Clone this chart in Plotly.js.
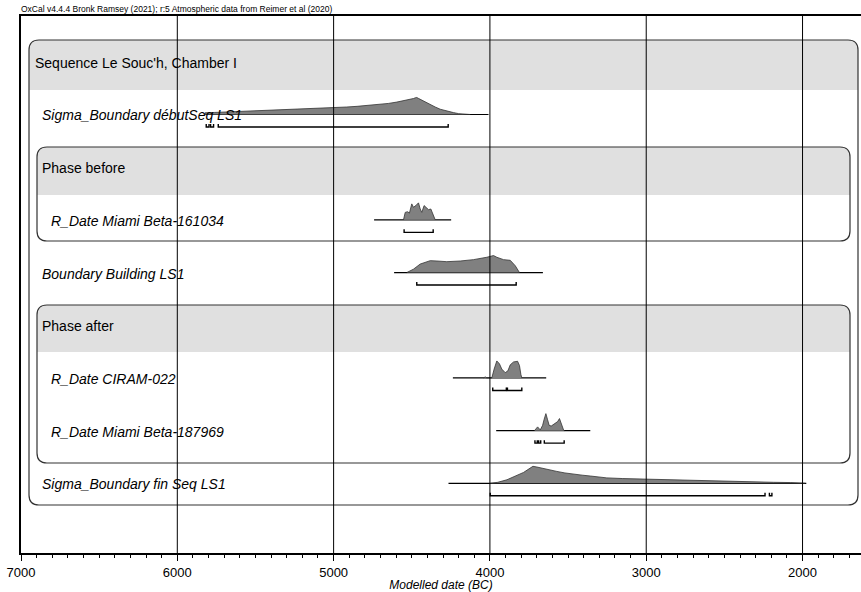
<!DOCTYPE html>
<html><head><meta charset="utf-8">
<script src="https://cdn.plot.ly/plotly-3.0.1.min.js"></script>
<style>html,body{margin:0;padding:0;background:#fff}#chart{width:861px;height:592px}</style>
</head><body><div id="chart"></div>
<script>
// ---------------- data ----------------
const rowLabels = ["Sequence Le Souc'h, Chamber I","Sigma_Boundary débutSeq LS1","Phase before","R_Date Miami Beta-161034","Boundary Building LS1","Phase after","R_Date CIRAM-022","R_Date Miami Beta-187969","Sigma_Boundary fin Seq LS1"];
const rowKinds = ["seq","item","phase","item2","item","phase","item2","item2","item"];

const tickVals = [7000,6000,5000,4000,3000,2000];
const tickText = ["7000","6000","5000","4000","3000","2000"];

// Sigma_Boundary débutSeq LS1 (row 1)
const debutYears = [5824,5822,5760,5700,5640,5556,5480,5400,5342,5260,5200,5129,5050,4980,4916,4850,4780,4702,4650,4596,4540,4505,4489,4478,4468,4458,4446,4420,4382,4350,4318,4280,4233,4200,4169,4126];
const debutProb  = [0,0.10,0.12,0.14,0.16,0.19,0.21,0.24,0.27,0.29,0.31,0.33,0.37,0.40,0.44,0.48,0.53,0.58,0.65,0.73,0.82,0.90,0.94,0.98,1.00,0.95,0.89,0.76,0.58,0.44,0.31,0.20,0.11,0.05,0.02,0];
const debutLine = [5822,4009];
const debutRange = [[5815,5797],[5787,5768],[5738,4267]];

// R_Date Miami Beta-161034 (row 3)
const b161Years = [4553,4542,4527,4515,4500,4489,4474,4457,4446,4436,4421,4408,4393,4378,4361,4350];
const b161Prob  = [0,0.44,0.48,0.40,0.94,0.74,0.84,1.00,0.64,0.44,0.84,0.74,0.60,0.64,0.24,0];
const b161Line = [4741,4248];
const b161Range = [[4549,4363]];

// Boundary Building LS1 (row 4)
const buildYears = [4532,4489,4446,4382,4339,4276,4190,4105,4020,3977,3956,3913,3870,3838,3811];
const buildProb  = [0,0.20,0.50,0.70,0.68,0.64,0.68,0.76,0.90,1.00,0.90,0.76,0.72,0.40,0];
const buildLine = [4613,3661];
const buildRange = [[4468,3832]];

// R_Date CIRAM-022 (row 6)
const ciramYears = [4041,4030,4020,3988,3973,3956,3939,3924,3902,3885,3870,3849,3823,3811,3802,3796];
const ciramProb  = [0,0.06,0,0,0.52,1.00,0.83,0.52,0.31,0.42,0.77,0.94,0.98,0.73,0.21,0];
const ciramLine = [4237,3640];
const ciramRange = [[3982,3895],[3888,3796]];

// R_Date Miami Beta-187969 (row 7)
const b187Years = [3715,3695,3678,3663,3653,3642,3632,3621,3608,3589,3567,3555,3544,3529,3523];
const b187Prob  = [0,0.22,0.04,0.31,0.67,1.00,0.67,0.31,0.27,0.40,0.53,0.71,0.40,0.04,0];
const b187Line = [3960,3358];
const b187Range = [[3712,3697],[3688,3675],[3652,3525]];

// Sigma_Boundary fin Seq LS1 (row 8)
const finYears = [3998,3950,3891,3840,3785,3750,3725,3700,3678,3620,3572,3520,3465,3410,3358,3300,3252,3150,3038,2930,2825,2720,2611,2500,2398,2290,2185,2078,1982];
const finProb  = [0,0.06,0.21,0.42,0.64,0.85,1.00,0.96,0.91,0.80,0.70,0.61,0.53,0.48,0.43,0.37,0.32,0.28,0.25,0.22,0.19,0.17,0.15,0.13,0.11,0.08,0.06,0.045,0.02];
const finLine = [4265,1976];
const finRange = [[3998,2240],[2212,2196]];

// ---------------- layout helpers ----------------
const ROWPX = 52.69;            // pixels per row
const PEAKPX = 17;              // peak height of a distribution
const TICKPX = 3;               // range bar end tick height
const W = 840;                  // plot width in px
const yTop = (16-61.8)/ROWPX, yBot = (553-61.8)/ROWPX;
const px2row = p => (p-61.8)/ROWPX;
const px2paper = p => (p-21)/W;

const dists = [
  {row:1, years:debutYears, prob:debutProb, line:debutLine, range:debutRange},
  {row:3, years:b161Years, prob:b161Prob, line:b161Line, range:b161Range},
  {row:4, years:buildYears, prob:buildProb, line:buildLine, range:buildRange},
  {row:6, years:ciramYears, prob:ciramProb, line:ciramLine, range:ciramRange},
  {row:7, years:b187Years, prob:b187Prob, line:b187Line, range:b187Range},
  {row:8, years:finYears, prob:finProb, line:finLine, range:finRange}
];

const traces = [];
dists.forEach(d => {
  const h = PEAKPX/ROWPX;
  traces.push({x:d.line, y:[d.row,d.row], mode:'lines', line:{color:'#000',width:1.2}, hoverinfo:'skip', showlegend:false});
  const xs = [d.years[0]].concat(d.years, [d.years[d.years.length-1]]);
  const ys = [d.row].concat(d.prob.map(p => d.row - p*h), [d.row]);
  traces.push({x:xs, y:ys, mode:'lines', fill:'toself', fillcolor:'#808080', line:{color:'#333',width:0.8}, hoverinfo:'skip', showlegend:false});
  const by = d.row + 12.5/ROWPX, tk = TICKPX/ROWPX;
  const rx = [], ry = [];
  d.range.forEach(s => { rx.push(s[0],s[0],s[1],s[1],null); ry.push(by-tk,by,by,by-tk,null); });
  traces.push({x:rx, y:ry, mode:'lines', line:{color:'#000',width:1.4}, hoverinfo:'skip', showlegend:false});
});

function rr(x0,x1,y0,y1,headerBot){
  const rx = 10/W, ry = 10/ROWPX;
  const outline = `M ${x0+rx},${y0} L ${x1-rx},${y0} Q ${x1},${y0} ${x1},${y0+ry} L ${x1},${y1-ry} Q ${x1},${y1} ${x1-rx},${y1} L ${x0+rx},${y1} Q ${x0},${y1} ${x0},${y1-ry} L ${x0},${y0+ry} Q ${x0},${y0} ${x0+rx},${y0} Z`;
  const header = `M ${x0+rx},${y0} L ${x1-rx},${y0} Q ${x1},${y0} ${x1},${y0+ry} L ${x1},${headerBot} L ${x0},${headerBot} L ${x0},${y0+ry} Q ${x0},${y0} ${x0+rx},${y0} Z`;
  return [
    {type:'path', xref:'paper', yref:'y', path:outline, fillcolor:'#fff', line:{width:0}, layer:'below'},
    {type:'path', xref:'paper', yref:'y', path:header, fillcolor:'#e0e0e0', line:{width:0}, layer:'below'},
    {type:'path', xref:'paper', yref:'y', path:outline, fillcolor:'rgba(0,0,0,0)', line:{color:'#333',width:1.2}, layer:'below'}
  ];
}
let shapes = [];
shapes = shapes.concat(rr(px2paper(29), px2paper(858), px2row(40), px2row(505), px2row(90)));
shapes = shapes.concat(rr(px2paper(37), px2paper(850), px2row(147), px2row(241), px2row(195)));
shapes = shapes.concat(rr(px2paper(37), px2paper(850), px2row(305), px2row(463), px2row(352)));
tickVals.slice(1).forEach(v => shapes.push({type:'line', xref:'x', yref:'paper', x0:v, x1:v, y0:0, y1:1, line:{color:'#000',width:1}, layer:'above'}));

const labelX = {seq:32.5, item:39.5, phase:40, item2:49};
const annotations = rowLabels.map((t,i) => {
  const italic = rowKinds[i].startsWith('item');
  return {xref:'paper', yref:'y', x:px2paper(labelX[rowKinds[i]]), y:i + 1/ROWPX, xanchor:'left', yanchor:'middle',
    text: italic ? '<i>'+t+'</i>' : t, showarrow:false, font:{family:'Liberation Sans, Arial, sans-serif', size:14, color:'#000'}};
});
annotations.push({xref:'paper', yref:'paper', x:0, y:1, xanchor:'left', yanchor:'bottom', yshift:0, xshift:-2,
  text:'OxCal v4.4.4 Bronk Ramsey (2021); r:5 Atmospheric data from Reimer et al (2020)', showarrow:false,
  font:{family:'Liberation Sans, Arial, sans-serif', size:8.5, color:'#000'}});

const layout = {
  width:861, height:592, paper_bgcolor:'#fff', plot_bgcolor:'#fff',
  margin:{l:21, r:0, t:16, b:39},
  showlegend:false,
  font:{family:'Liberation Sans, Arial, sans-serif', color:'#000'},
  xaxis:{range:[7000,1626], autorange:false, tickvals:tickVals, ticktext:tickText, ticks:'outside', ticklen:6, tickwidth:1, tickcolor:'#000',
    showline:true, linewidth:2, linecolor:'#000', mirror:true, showgrid:false, zeroline:false,
    minor:{dtick:100, ticks:'outside', ticklen:3, tickwidth:1, tickcolor:'#000', showgrid:false},
    tickfont:{size:13, family:'Liberation Sans, Arial, sans-serif'},
    title:{text:'<i>Modelled date (BC)</i>', font:{size:12, family:'Liberation Sans, Arial, sans-serif'}, standoff:3}},
  yaxis:{range:[yBot,yTop], autorange:false, showticklabels:false, ticks:'', showgrid:false, zeroline:false,
    showline:true, linewidth:2, linecolor:'#000', mirror:false},
  shapes:shapes, annotations:annotations
};
Plotly.newPlot('chart', traces, layout, {staticPlot:true, displayModeBar:false});
</script></body></html>
